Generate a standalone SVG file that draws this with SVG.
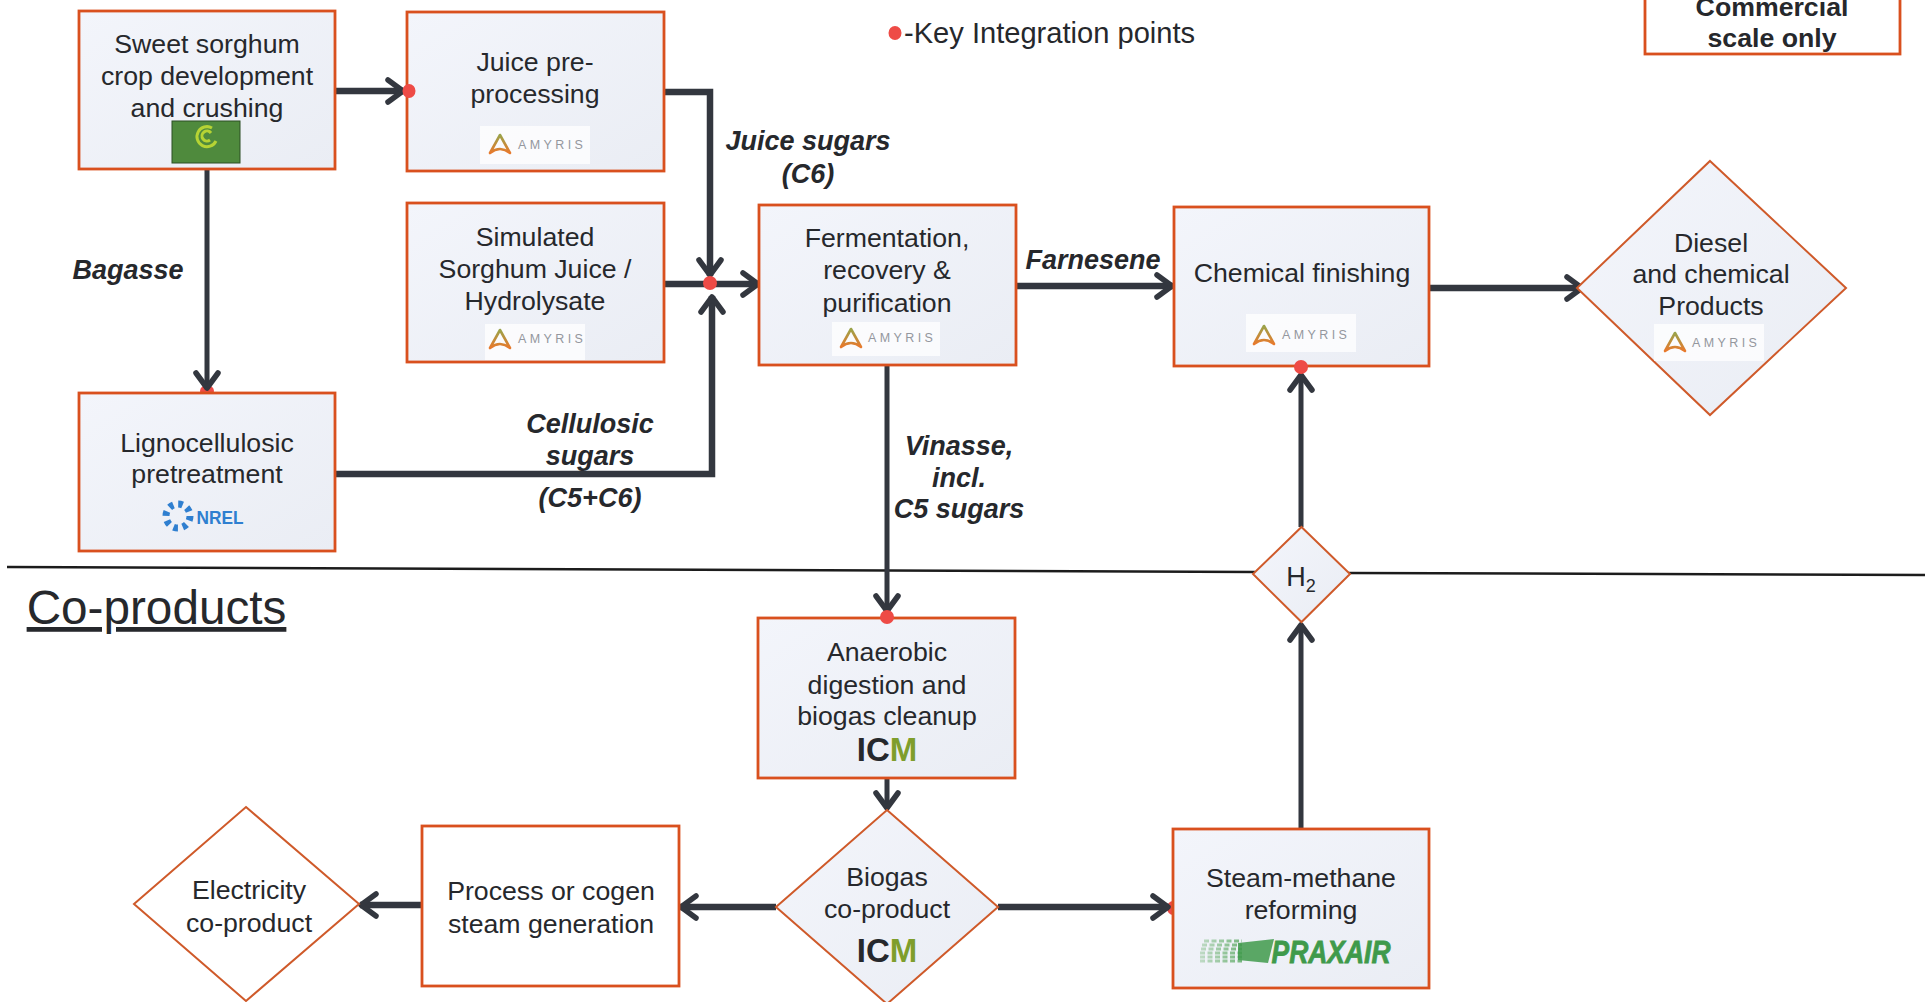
<svg xmlns="http://www.w3.org/2000/svg" xmlns:xlink="http://www.w3.org/1999/xlink" width="1925" height="1002" viewBox="0 0 1925 1002">
<style>
text{font-family:"Liberation Sans",Arial,sans-serif;fill:#26282c;text-anchor:middle}
.t{font-size:26.7px}
.l{font-size:27px;font-weight:bold;font-style:italic}
.box{fill:url(#nodeFill);stroke:#d9501e;stroke-width:2.8}
.plain{fill:#fff;stroke:#d9501e;stroke-width:2.8}
.dia{fill:url(#nodeFill);stroke:#cf5a2a;stroke-width:2}
.dia0{fill:#fff;stroke:#cf5a2a;stroke-width:2}
.c{fill:none;stroke:#33373f;stroke-width:5;marker-end:url(#arrow)}
.th{stroke-width:6.5}
.dot{fill:#ee4b46}
.sep{stroke:#1c1c1c;stroke-width:2.5;fill:none}
.am{font-size:12.5px;letter-spacing:3.4px;fill:#94979e;text-anchor:start}
.lw{fill:#fff;opacity:.75}
.icm{font-size:33px;font-weight:bold}
</style>
<defs>
<linearGradient id="nodeFill" x1="0" y1="0" x2="1" y2="1"><stop offset="0" stop-color="#f3f5fb"/><stop offset="1" stop-color="#eaedf4"/></linearGradient>
<linearGradient id="amyG" x1="0" y1="0" x2="0" y2="1"><stop offset="0" stop-color="#9aa34a"/><stop offset="1" stop-color="#e8792c"/></linearGradient>
<linearGradient id="pxG" gradientUnits="userSpaceOnUse" x1="1200" y1="0" x2="1272" y2="0"><stop offset="0" stop-color="#4ea34f" stop-opacity=".3"/><stop offset="1" stop-color="#3f9a4b"/></linearGradient>
<marker id="arrow" markerUnits="userSpaceOnUse" markerWidth="30" markerHeight="34" refX="22" refY="15" orient="auto" overflow="visible"><path d="M6 4 L21 15 L6 26" fill="none" stroke="#33373f" stroke-width="5.5" stroke-linecap="round" stroke-linejoin="round"/></marker>
<path id="amark" d="M-10 9 L0 -9 L10 9 Q0 1 -10 9Z" fill="none" stroke="url(#amyG)" stroke-width="2.6" stroke-linejoin="round"/>
</defs>
<rect width="1925" height="1002" fill="#fff"/>
<g id="separator">
<path class="sep" d="M7 567 L1255 572"/>
<path class="sep" d="M1348 573 L1925 575"/>
</g>
<g id="hidden-integration-points">
<ellipse class="dot" cx="207" cy="391" rx="7" ry="6"/>
<ellipse class="dot" cx="1173" cy="908" rx="6" ry="7"/>
</g>
<g id="connectors">
<path class="c th" d="M335 91 H404"/>
<path class="c" d="M207 169 V389"/>
<path class="c th" d="M664 92 H710 V276"/>
<path class="c th" d="M664 284 H759"/>
<path class="c th" d="M335 474 H712 V296"/>
<path class="c" d="M887 365 V612"/>
<path class="c th" d="M1016 286 H1173"/>
<path class="c th" d="M1429 288 H1583"/>
<path class="c" d="M1301 527 V374"/>
<path class="c" d="M1301 829 V624"/>
<path class="c th" d="M998 907 H1169"/>
<path class="c th" d="M776 907 H680"/>
<path class="c th" d="M422 905 H360"/>
<path class="c" d="M887 778 V809"/>
</g>
<g id="sweet-sorghum">
<rect class="box" x="79" y="11" width="256" height="158"/>
<text class="t" x="207" y="53">Sweet sorghum</text><text class="t" x="207" y="85">crop development</text><text class="t" x="207" y="117">and crushing</text>
<rect x="172" y="121" width="68" height="42" fill="#4f8a3d" stroke="#2d4f25"/>
<path d="M212 128 A10 10 0 1 0 216 141 M210 140 A5 5 0 1 1 211 133" fill="none" stroke="#b6d334" stroke-width="3"/>
</g>
<g id="juice-preprocessing">
<rect class="box" x="407" y="12" width="257" height="159"/>
<text class="t" x="535" y="71">Juice pre-</text><text class="t" x="535" y="103">processing</text>
<rect class="lw" x="480" y="126" width="110" height="38"/>
<use xlink:href="#amark" x="500" y="144"/><text class="am" x="518" y="149">AMYRIS</text>
</g>
<g id="simulated-juice">
<rect class="box" x="407" y="203" width="257" height="159"/>
<text class="t" x="535" y="246">Simulated</text><text class="t" x="535" y="278">Sorghum Juice /</text><text class="t" x="535" y="310">Hydrolysate</text>
<rect class="lw" x="485" y="324" width="100" height="36"/>
<use xlink:href="#amark" x="500" y="339"/><text class="am" x="518" y="343">AMYRIS</text>
</g>
<g id="lignocellulosic">
<rect class="box" x="79" y="393" width="256" height="158"/>
<text class="t" x="207" y="452">Lignocellulosic</text><text class="t" x="207" y="483">pretreatment</text>
<circle cx="178" cy="516" r="12" fill="none" stroke="#2f7fd0" stroke-width="7" stroke-dasharray="4.5 4.9"/>
<text x="220" y="524" font-size="19" font-weight="bold" textLength="47" lengthAdjust="spacingAndGlyphs" style="fill:#2f7fd0">NREL</text>
</g>
<g id="fermentation">
<rect class="box" x="759" y="205" width="257" height="160"/>
<text class="t" x="887" y="247">Fermentation,</text><text class="t" x="887" y="279">recovery &amp;</text><text class="t" x="887" y="312">purification</text>
<rect class="lw" x="832" y="322" width="108" height="34"/>
<use xlink:href="#amark" x="851" y="338"/><text class="am" x="868" y="342">AMYRIS</text>
</g>
<g id="chemical-finishing">
<rect class="box" x="1174" y="207" width="255" height="159"/>
<text class="t" x="1302" y="282">Chemical finishing</text>
<rect class="lw" x="1246" y="314" width="110" height="38"/>
<use xlink:href="#amark" x="1264" y="335"/><text class="am" x="1282" y="339">AMYRIS</text>
</g>
<g id="diesel">
<polygon class="dia" points="1710,161 1846,288 1710,415 1577,288"/>
<text class="t" x="1711" y="252">Diesel</text><text class="t" x="1711" y="283">and chemical</text><text class="t" x="1711" y="315">Products</text>
<rect class="lw" x="1654" y="324" width="110" height="37"/>
<use xlink:href="#amark" x="1675" y="342"/><text class="am" x="1692" y="347">AMYRIS</text>
</g>
<g id="commercial-scale">
<rect class="plain" x="1645" y="-20" width="255" height="74"/>
<text x="1772" y="16" font-size="26.7" font-weight="bold">Commercial</text><text x="1772" y="47" font-size="26.7" font-weight="bold">scale only</text>
</g>
<g id="legend">
<ellipse class="dot" cx="895" cy="33" rx="6.5" ry="7"/>
<text x="904" y="43" font-size="29.1" style="text-anchor:start">-Key Integration points</text>
</g>
<g id="h2">
<polygon class="dia" points="1301.5,527 1350,574 1301.5,622 1253,574"/>
<text x="1301" y="586" font-size="27">H<tspan font-size="18" dy="6">2</tspan></text>
</g>
<g id="anaerobic">
<rect class="box" x="758" y="618" width="257" height="160"/>
<text class="t" x="887" y="661">Anaerobic</text><text class="t" x="887" y="694">digestion and</text><text class="t" x="887" y="725">biogas cleanup</text>
<text class="icm" x="887" y="761">IC<tspan style="fill:#7f9e2c">M</tspan></text>
</g>
<g id="biogas">
<polygon class="dia" points="887,810 998,907 887,1004 776,907"/>
<text class="t" x="887" y="886">Biogas</text><text class="t" x="887" y="918">co-product</text>
<text class="icm" x="887" y="962">IC<tspan style="fill:#7f9e2c">M</tspan></text>
</g>
<g id="steam-methane">
<rect class="box" x="1173" y="829" width="256" height="159"/>
<text class="t" x="1301" y="887">Steam-methane</text><text class="t" x="1301" y="919">reforming</text>
<g stroke="url(#pxG)" stroke-width="2.8" stroke-dasharray="5 2.5" fill="none">
<path d="M1204 941 H1242"/><path d="M1202 945 H1242"/><path d="M1201 949 H1242"/><path d="M1200 953 H1242"/><path d="M1200 957 H1242"/><path d="M1200 961 H1242"/>
</g>
<polygon points="1238,943 1274,939 1268,963 1238,960" fill="#3f9a4b" opacity=".85"/>
<text x="1331" y="963" font-size="32" font-weight="bold" font-style="italic" textLength="119" lengthAdjust="spacingAndGlyphs" stroke="#3f9a4b" stroke-width=".8" style="fill:#3f9a4b">PRAXAIR</text>
</g>
<g id="process-steam">
<rect class="plain" x="422" y="826" width="257" height="160"/>
<text class="t" x="551" y="900">Process or cogen</text><text class="t" x="551" y="933">steam generation</text>
</g>
<g id="electricity">
<polygon class="dia0" points="246,807 359,904 246,1001 134,904"/>
<text class="t" x="249" y="899">Electricity</text><text class="t" x="249" y="932">co-product</text>
</g>
<g id="integration-points">
<ellipse class="dot" cx="409" cy="91" rx="6.5" ry="7"/>
<ellipse class="dot" cx="710" cy="283" rx="7" ry="7"/>
<ellipse class="dot" cx="887" cy="617" rx="7" ry="7"/>
<ellipse class="dot" cx="1301" cy="367" rx="7" ry="7"/>
</g>
<g id="labels">
<text class="l" x="808" y="150">Juice sugars</text><text class="l" x="808" y="183">(C6)</text>
<text class="l" x="128" y="279">Bagasse</text>
<text class="l" x="590" y="433">Cellulosic</text><text class="l" x="590" y="465">sugars</text><text class="l" x="590" y="507">(C5+C6)</text>
<text class="l" x="959" y="455">Vinasse,</text><text class="l" x="959" y="487">incl.</text><text class="l" x="959" y="518">C5 sugars</text>
<text class="l" x="1093" y="269">Farnesene</text>
<text x="156.5" y="624" font-size="47.7" text-decoration="underline">Co-products</text>
</g>
</svg>
